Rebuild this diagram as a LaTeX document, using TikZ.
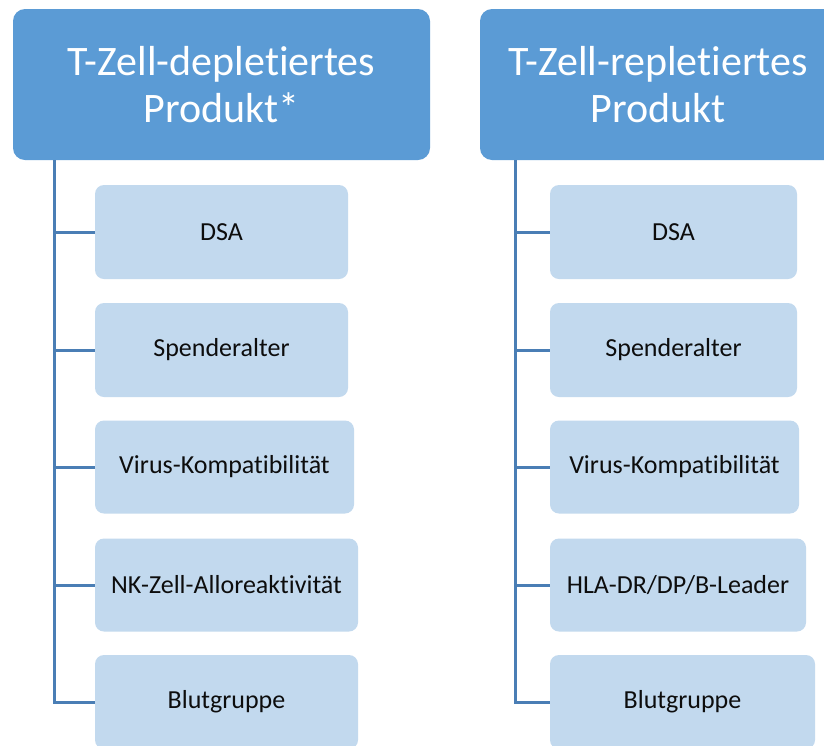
\documentclass[tikz,border=0pt]{standalone}
\usepackage{fontspec}
\setmainfont{Carlito}[RawFeature={-liga;-clig;-calt;-dlig}]
\definecolor{hdr}{HTML}{5B9BD5}
\definecolor{kid}{HTML}{C2D9EE}
\definecolor{lnk}{HTML}{4A7EB5}
\definecolor{txt}{HTML}{0D0D0D}
\begin{document}
\begin{tikzpicture}[x=1pt,y=-1pt,
  header/.style={draw=none,fill=hdr,rounded corners=12pt,inner sep=0pt,outer sep=0pt,
    minimum height=151pt,text=white,align=center,font=\fontsize{42}{47}\selectfont},
  kidbox/.style={draw=none,fill=kid,rounded corners=9pt,inner sep=0pt,outer sep=0pt,
    anchor=west,minimum height=94pt,text=txt,font=\fontsize{26}{30}\selectfont},
  link/.style={draw=lnk,line width=3pt}]
\clip (0,0) rectangle (824,745);
\fill[white] (0,0) rectangle (824,745);
% headers
\node[header,minimum width=417pt] (hl) at (221.5,84.5) {T-Zell-depletiertes\\Produkt*};
\node[header,minimum width=356pt] (hr) at (658,84.5) {T-Zell-repletiertes\\Produkt};
% left children
\node[kidbox,minimum width=253pt] (l1) at (95,232) {DSA};
\node[kidbox,minimum width=253pt] (l2) at (95,350) {Spenderalter};
\node[kidbox,minimum width=259pt,minimum height=93pt] (l3) at (95,467) {Virus-Kompatibilität};
\node[kidbox,minimum width=263pt,minimum height=93pt] (l4) at (95,585) {NK-Zell-Alloreaktivität};
\node[kidbox,minimum width=263pt] (l5) at (95,702) {Blutgruppe};
% right children
\node[kidbox,minimum width=247pt] (r1) at (550,232) {DSA};
\node[kidbox,minimum width=247pt] (r2) at (550,350) {Spenderalter};
\node[kidbox,minimum width=249pt,minimum height=93pt] (r3) at (550,467) {Virus-Kompatibilität};
\node[kidbox,minimum width=256pt,minimum height=93pt] (r4) at (550,585) {HLA-DR/DP/B-Leader};
\node[kidbox,minimum width=265pt] (r5) at (550,702) {Blutgruppe};
% connectors
\coordinate (sl) at (54,160);
\coordinate (sr) at (515,160);
\draw[link] (sl) |- (l5.west);
\foreach \k in {1,2,3,4} \draw[link] (sl |- l\k.west) -- (l\k.west);
\draw[link] (sr) |- (r5.west);
\foreach \k in {1,2,3,4} \draw[link] (sr |- r\k.west) -- (r\k.west);
\end{tikzpicture}
\end{document}
